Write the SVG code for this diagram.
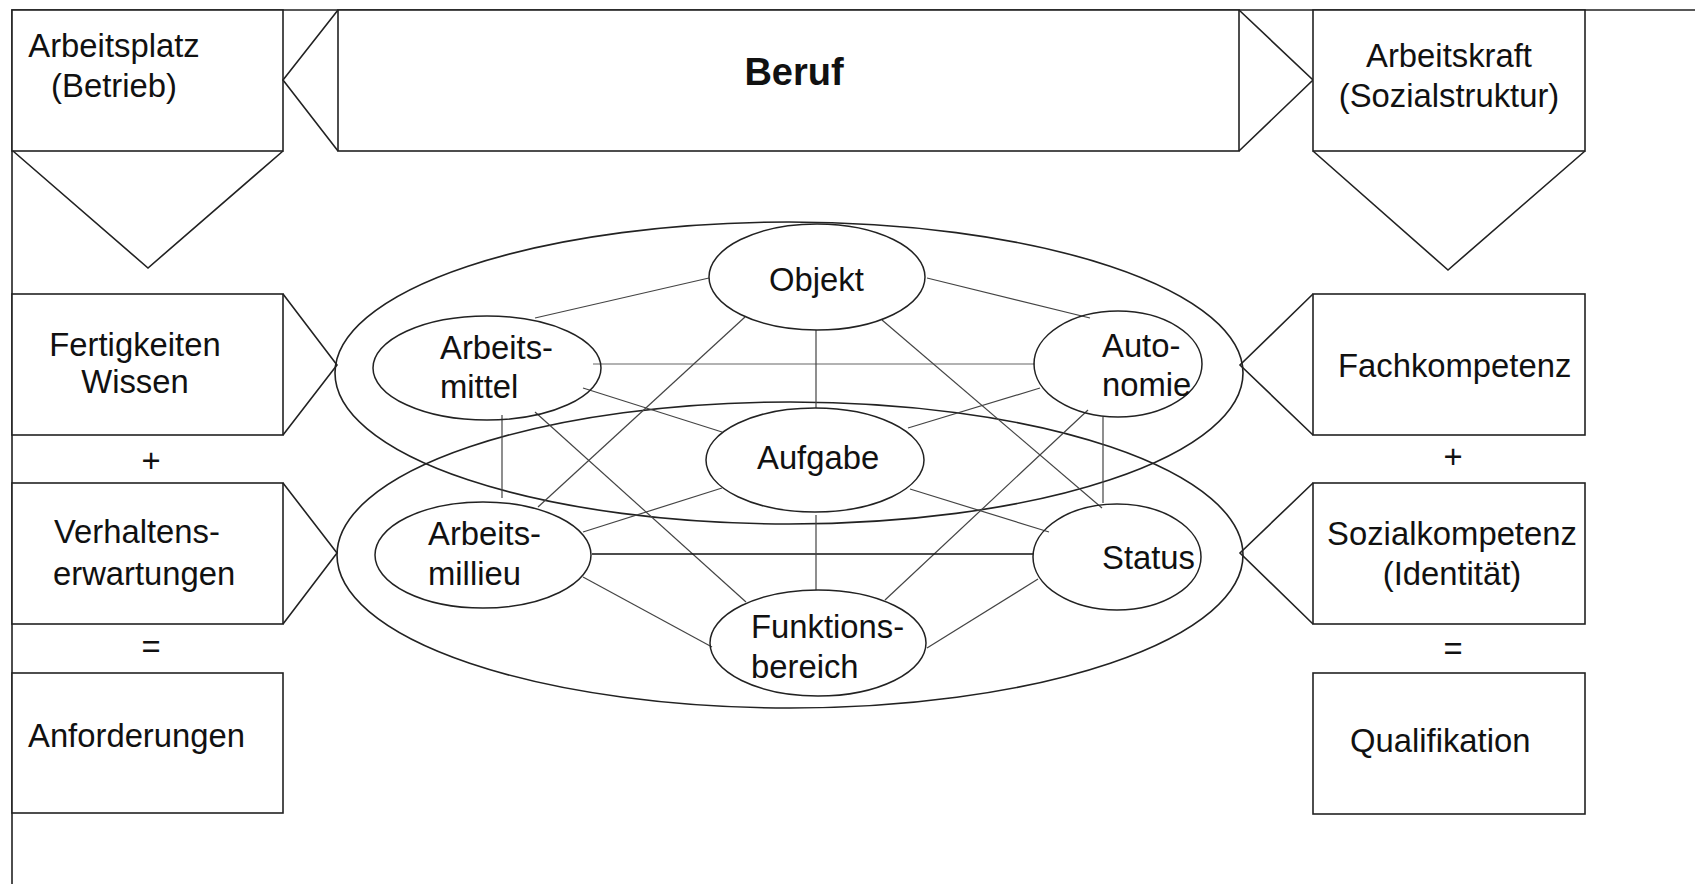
<svg xmlns="http://www.w3.org/2000/svg" width="1695" height="884" viewBox="0 0 1695 884">
<style>
.bg{fill:#fff}
.frame{fill:none;stroke:#222;stroke-width:1.6}
.box{fill:#fff;stroke:#222;stroke-width:1.6}
.arr{fill:none;stroke:#222;stroke-width:1.6;stroke-linejoin:miter}
.big{fill:none;stroke:#222;stroke-width:1.6}
.ell{fill:none;stroke:#222;stroke-width:1.5}
.t{font-family:"Liberation Sans",Arial,sans-serif;font-size:32.8px;fill:#111}
.c{text-anchor:middle}
.b{font-weight:bold;font-size:38px}
.con line{stroke:#444;stroke-width:1.2}
</style>
<rect class="bg" x="0" y="0" width="1695" height="884"/>
<g id="frame">
<polyline class="frame" points="12,884 12,10 1695,10"/>
</g>
<g id="arbeitsplatz">
<rect class="box" x="12" y="10" width="271" height="141"/>
<polyline class="arr" points="13,151 148,268 283,151"/>
<text class="t c" x="114" y="57">Arbeitsplatz</text>
<text class="t c" x="114" y="97">(Betrieb)</text>
</g>
<g id="beruf">
<rect class="box" x="338" y="10" width="901" height="141"/>
<polyline class="arr" points="338,10 283,80 338,151"/>
<polyline class="arr" points="1239,10 1313,80 1239,151"/>
<text class="t c b" x="794" y="85">Beruf</text>
</g>
<g id="arbeitskraft">
<rect class="box" x="1313" y="10" width="272" height="141"/>
<polyline class="arr" points="1313,151 1448,270 1585,151"/>
<text class="t c" x="1449" y="67">Arbeitskraft</text>
<text class="t c" x="1449" y="107">(Sozialstruktur)</text>
</g>
<g id="fertigkeiten">
<rect class="box" x="12" y="294" width="271" height="141"/>
<polyline class="arr" points="283,294 337,365 283,435"/>
<text class="t c" x="135" y="356">Fertigkeiten</text>
<text class="t c" x="135" y="393">Wissen</text>
</g>
<g id="plus-left"><text class="t c" x="151" y="472">+</text></g>
<g id="verhaltens">
<rect class="box" x="12" y="483" width="271" height="141"/>
<polyline class="arr" points="283,483 337,553 283,624"/>
<text class="t" x="54" y="543">Verhaltens-</text>
<text class="t" x="53" y="585">erwartungen</text>
</g>
<g id="eq-left"><text class="t c" x="151" y="658">=</text></g>
<g id="anforderungen">
<rect class="box" x="12" y="673" width="271" height="140"/>
<text class="t" x="28" y="747">Anforderungen</text>
</g>
<g id="fachkompetenz">
<rect class="box" x="1313" y="294" width="272" height="141"/>
<polyline class="arr" points="1313,294 1240,365 1313,435"/>
<text class="t" x="1338" y="377">Fachkompetenz</text>
</g>
<g id="plus-right"><text class="t c" x="1453" y="468">+</text></g>
<g id="sozialkompetenz">
<rect class="box" x="1313" y="483" width="272" height="141"/>
<polyline class="arr" points="1313,483 1240,553 1313,624"/>
<text class="t c" x="1452" y="545">Sozialkompetenz</text>
<text class="t c" x="1452" y="585">(Identität)</text>
</g>
<g id="eq-right"><text class="t c" x="1453" y="660">=</text></g>
<g id="qualifikation">
<rect class="box" x="1313" y="673" width="272" height="141"/>
<text class="t" x="1350" y="752">Qualifikation</text>
</g>
<g id="ellipse-top"><ellipse class="big" cx="789" cy="373" rx="454" ry="151"/></g>
<g id="ellipse-bottom"><ellipse class="big" cx="790" cy="555" rx="453" ry="153"/></g>
<g id="connectors" class="con">
<line x1="535" y1="318" x2="709" y2="278"/>
<line x1="927" y1="278" x2="1090" y2="318"/>
<line x1="593" y1="364" x2="1035" y2="364" style="stroke:#666"/>
<line x1="816" y1="330" x2="816" y2="408"/>
<line x1="583" y1="388" x2="722" y2="432"/>
<line x1="745" y1="317" x2="538" y2="507"/>
<line x1="502" y1="415" x2="502" y2="498"/>
<line x1="535" y1="412" x2="746" y2="602"/>
<line x1="882" y1="320" x2="1102" y2="508"/>
<line x1="908" y1="428" x2="1040" y2="388"/>
<line x1="1088" y1="410" x2="885" y2="600"/>
<line x1="1103" y1="417" x2="1103" y2="503"/>
<line x1="583" y1="532" x2="722" y2="488"/>
<line x1="592" y1="554" x2="1033" y2="554" style="stroke:#111;stroke-width:1.6"/>
<line x1="583" y1="577" x2="712" y2="647"/>
<line x1="816" y1="515" x2="816" y2="590"/>
<line x1="910" y1="489" x2="1049" y2="532"/>
<line x1="1038" y1="579" x2="927" y2="648"/>
</g>
<g id="objekt"><ellipse class="ell" cx="817" cy="277" rx="108" ry="53"/><text class="t" x="769" y="291">Objekt</text></g>
<g id="arbeitsmittel"><ellipse class="ell" cx="487" cy="368" rx="114" ry="52"/><text class="t" x="440" y="359">Arbeits-</text><text class="t" x="440" y="398">mittel</text></g>
<g id="autonomie"><ellipse class="ell" cx="1118" cy="364" rx="84" ry="53"/><text class="t" x="1102" y="357">Auto-</text><text class="t" x="1102" y="396">nomie</text></g>
<g id="aufgabe"><ellipse class="ell" cx="815" cy="460" rx="109" ry="52"/><text class="t" x="757" y="469">Aufgabe</text></g>
<g id="arbeitsmillieu"><ellipse class="ell" cx="483" cy="555" rx="108" ry="53"/><text class="t" x="428" y="545">Arbeits-</text><text class="t" x="428" y="585">millieu</text></g>
<g id="status"><ellipse class="ell" cx="1117" cy="557" rx="84" ry="53"/><text class="t" x="1102" y="569">Status</text></g>
<g id="funktionsbereich"><ellipse class="ell" cx="818" cy="643" rx="108" ry="53"/><text class="t" x="751" y="638">Funktions-</text><text class="t" x="751" y="678">bereich</text></g>
</svg>
